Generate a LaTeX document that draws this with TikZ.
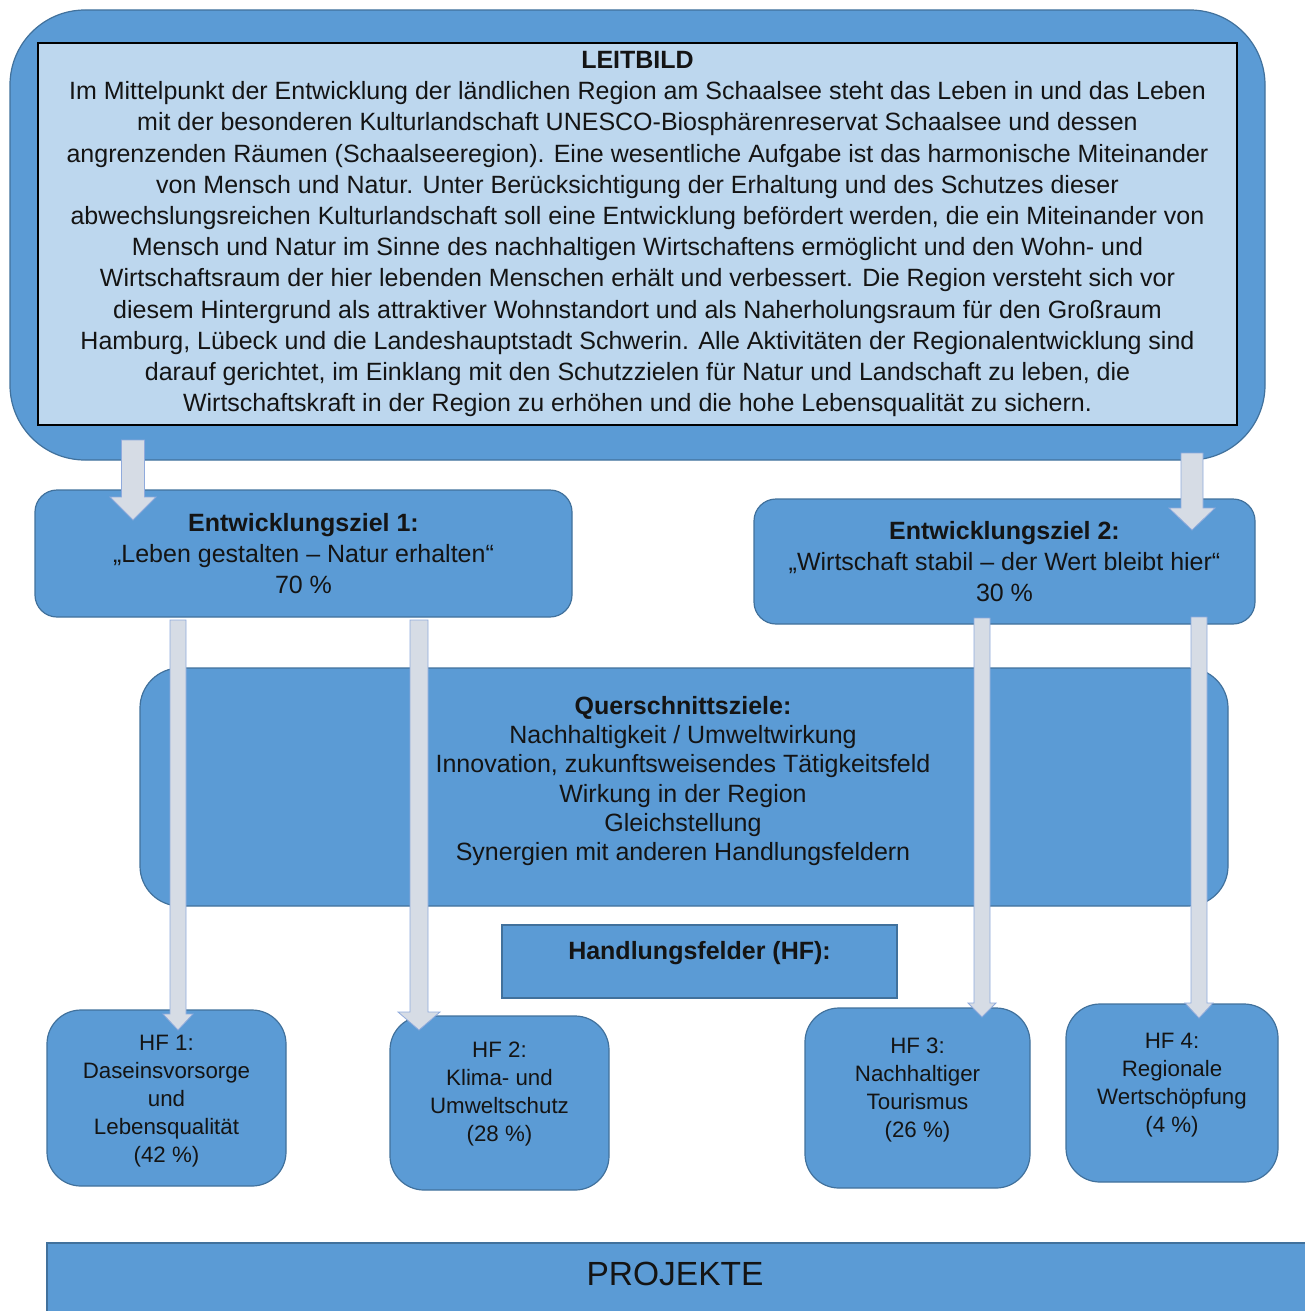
\documentclass[tikz,border=0pt]{standalone}
\usepackage{fontspec}
\setmainfont{Liberation Sans}
\usetikzlibrary{calc}
\definecolor{boxblue}{HTML}{5B9BD5}
\definecolor{boxline}{HTML}{41719C}
\definecolor{paleblue}{HTML}{BDD7EE}
\definecolor{arrowfill}{HTML}{D6DCE5}
\definecolor{arrowline}{HTML}{8FAADC}
\definecolor{textdark}{HTML}{141414}

% vertical block arrow: start, tip, shaft half width, head half width, head length
\newcommand{\blockarr}[5]{%
  \draw[blockarrow] ($(#1)+(-#3,0)$) -- ($(#2)+(-#3,-#5)$) -- ($(#2)+(-#4,-#5)$) -- (#2)
    -- ($(#2)+(#4,-#5)$) -- ($(#2)+(#3,-#5)$) -- ($(#1)+(#3,0)$) -- cycle;}

\begin{document}
\begin{tikzpicture}[x=1pt, y=-1pt,
    blueblock/.style={draw=boxline, fill=boxblue, line width=1.2pt, text=textdark, align=center, inner sep=0pt},
    hfbox/.style={blueblock, rounded corners=34pt},
    blockarrow/.style={draw=arrowline, fill=arrowfill, line width=0.8pt},
    bigtext/.style={font=\fontsize{25}{31.2}\selectfont},
    hftext/.style={font=\fontsize{22.3}{28}\selectfont, text=textdark, align=center}]
  \useasboundingbox (0,0) rectangle (1304,1311);

  % Leitbild
  \node[blueblock, rounded corners=75pt, minimum width=1255pt, minimum height=450pt] (leitbild) at (637.5,235) {};
  \node[draw=black, fill=paleblue, line width=1.6pt, minimum width=1199pt, minimum height=382pt,
        align=center, inner sep=0pt, text=textdark, bigtext] (leittext) at (637.5,234)
    {\textbf{LEITBILD}\\
     Im Mittelpunkt der Entwicklung der ländlichen Region am Schaalsee steht das Leben in und das Leben\\
     mit der besonderen Kulturlandschaft UNESCO-Biosphärenreservat Schaalsee und dessen\\
     angrenzenden Räumen (Schaalseeregion). Eine wesentliche Aufgabe ist das harmonische Miteinander\\
     von Mensch und Natur. Unter Berücksichtigung der Erhaltung und des Schutzes dieser\\
     abwechslungsreichen Kulturlandschaft soll eine Entwicklung befördert werden, die ein Miteinander von\\
     Mensch und Natur im Sinne des nachhaltigen Wirtschaftens ermöglicht und den Wohn- und\\
     Wirtschaftsraum der hier lebenden Menschen erhält und verbessert. Die Region versteht sich vor\\
     diesem Hintergrund als attraktiver Wohnstandort und als Naherholungsraum für den Großraum\\
     Hamburg, Lübeck und die Landeshauptstadt Schwerin. Alle Aktivitäten der Regionalentwicklung sind\\
     darauf gerichtet, im Einklang mit den Schutzzielen für Natur und Landschaft zu leben, die\\
     Wirtschaftskraft in der Region zu erhöhen und die hohe Lebensqualität zu sichern.};

  % Entwicklungsziele
  \node[blueblock, rounded corners=22pt, minimum width=537pt, minimum height=127pt, bigtext] (ez1) at (303.5,553.5)
    {\textbf{Entwicklungsziel 1:}\\„Leben gestalten – Natur erhalten“\\70 \%};
  \node[blueblock, rounded corners=22pt, minimum width=501pt, minimum height=125pt, bigtext] (ez2) at (1004.5,561.5)
    {\textbf{Entwicklungsziel 2:}\\„Wirtschaft stabil – der Wert bleibt hier“\\30 \%};

  % Querschnittsziele
  \node[blueblock, rounded corners=40pt, minimum width=1088pt, minimum height=238pt] (quer) at (684,787) {};
  \node[font=\fontsize{25}{29.2}\selectfont, text=textdark, align=center] (quertext) at (683,781)
    {\textbf{Querschnittsziele:}\\Nachhaltigkeit / Umweltwirkung\\Innovation, zukunftsweisendes Tätigkeitsfeld\\
     Wirkung in der Region\\Gleichstellung\\Synergien mit anderen Handlungsfeldern};

  % Handlungsfelder
  \node[blueblock, minimum width=395pt, minimum height=73pt] (hftitle) at (699.5,961.5) {};
  \node[bigtext, text=textdark] at ($(hftitle)+(0,-8)$) {\textbf{Handlungsfelder (HF):}};

  \node[hfbox, minimum width=239pt, minimum height=176pt] (hf1) at (166.5,1098) {};
  \node[hftext] at ($(hf1)+(0,3)$) {HF 1:\\Daseinsvorsorge\\und\\Lebensqualität\\(42 \%)};
  \node[hfbox, minimum width=219pt, minimum height=174pt] (hf2) at (499.5,1103) {};
  \node[hftext] at ($(hf2)+(0,-9)$) {HF 2:\\Klima- und\\Umweltschutz\\(28 \%)};
  \node[hfbox, minimum width=225pt, minimum height=180pt] (hf3) at (917.5,1098) {};
  \node[hftext] at ($(hf3)+(0,-8)$) {HF 3:\\Nachhaltiger\\Tourismus\\(26 \%)};
  \node[hfbox, minimum width=212pt, minimum height=178pt] (hf4) at (1172,1093) {};
  \node[hftext] at ($(hf4)+(0,-8)$) {HF 4:\\Regionale\\Wertschöpfung\\(4 \%)};

  % Projekte
  \node[blueblock, minimum width=1300pt, minimum height=100pt] (projekte) at (697,1293) {};
  \node[font=\fontsize{33.5}{40}\selectfont, text=textdark] at (675,1274) {PROJEKTE};

  % arrows
  \coordinate (lb1) at (133,440);   \coordinate (ez1top) at (133,520);
  \coordinate (lb2) at (1192,453);  \coordinate (ez2top) at (1192,530);
  \coordinate (ez1a) at (178,620);  \coordinate (hf1top) at (178,1030);
  \coordinate (ez1b) at (419,620);  \coordinate (hf2top) at (419,1030);
  \coordinate (ez2a) at (982,618);  \coordinate (hf3top) at (982,1017);
  \coordinate (ez2b) at (1199,617); \coordinate (hf4top) at (1199,1018);
  \blockarr{lb1}{ez1top}{11.5}{23}{23}
  \blockarr{lb2}{ez2top}{11}{23}{22}
  \blockarr{ez1a}{hf1top}{8}{15}{16}
  \blockarr{ez1b}{hf2top}{9}{21}{18}
  \blockarr{ez2a}{hf3top}{8}{14}{14}
  \blockarr{ez2b}{hf4top}{8}{14}{15}
\end{tikzpicture}
\end{document}
